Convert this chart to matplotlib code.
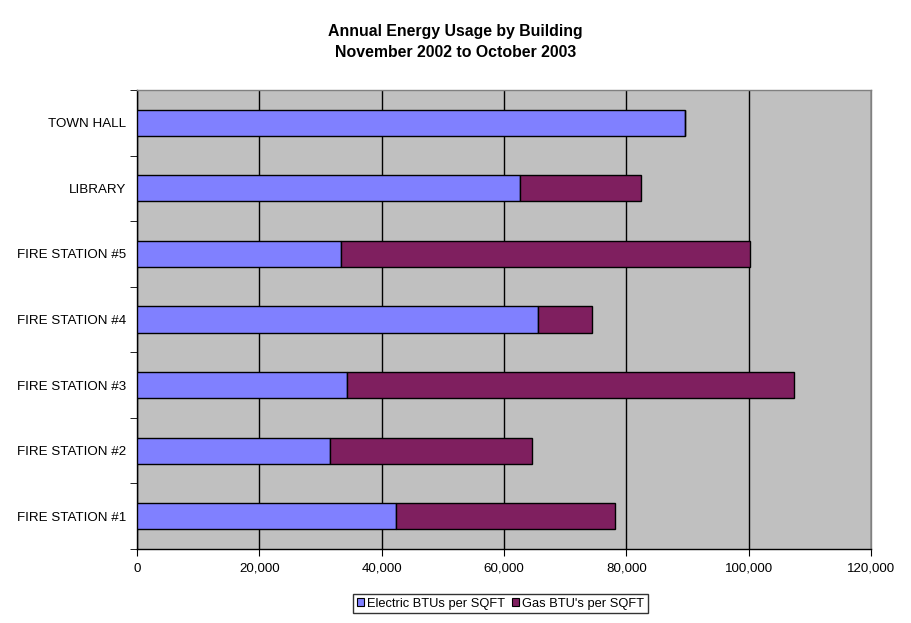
import matplotlib
matplotlib.use("Agg")
import matplotlib.pyplot as plt
from matplotlib.ticker import FuncFormatter, FixedLocator
from matplotlib.patches import Patch

buildings = ["FIRE STATION #1", "FIRE STATION #2", "FIRE STATION #3", "FIRE STATION #4",
             "FIRE STATION #5", "LIBRARY", "TOWN HALL"]
electric = [42400, 31600, 34400, 65600, 33400, 62600, 89550]
gas = [35800, 32900, 73000, 8800, 66800, 19800, 0]
x_ticks = [0, 20000, 40000, 60000, 80000, 100000, 120000]

plt.rcParams['font.family'] = ['Liberation Sans', 'DejaVu Sans']

fig = plt.figure(figsize=(9.11, 6.23), dpi=100)
W, H = 911, 623
ax = fig.add_axes([137 / W, (H - 549) / H, (871 - 137) / W, (549 - 90) / H])
ax.set_facecolor('#C0C0C0')

ypos = list(range(len(buildings)))
ax.barh(ypos, electric, height=0.4, color='#8080FF', edgecolor='black', linewidth=1.0,
        label='Electric BTUs per SQFT', zorder=3)
ax.barh(ypos, gas, left=electric, height=0.4, color='#7F1F5F', edgecolor='black', linewidth=1.0,
        label="Gas BTU's per SQFT", zorder=3)

ax.set_xlim(0, 120000)
ax.set_ylim(-0.5, len(buildings) - 0.5)
ax.set_xticks(x_ticks)
ax.xaxis.set_major_formatter(FuncFormatter(lambda v, p: f"{int(v):,}"))
ax.grid(axis='x', color='black', linewidth=1.0, zorder=1)

ax.set_yticks(ypos)
ax.set_yticklabels(buildings)
ax.yaxis.set_minor_locator(FixedLocator([i - 0.5 for i in range(len(buildings) + 1)]))
ax.tick_params(axis='y', which='major', length=0, pad=8, labelsize=9.6)
ax.tick_params(axis='y', which='minor', length=5, direction='out', color='black')
ax.tick_params(axis='x', which='major', length=5, direction='out', labelsize=9.6, pad=5)

for s in ['left', 'bottom']:
    ax.spines[s].set_color('black')
    ax.spines[s].set_linewidth(1.0)
for s in ['top', 'right']:
    ax.spines[s].set_color('#808080')
    ax.spines[s].set_linewidth(1.0)

fig.text(455.5 / W, 1 - 31.5 / H, "Annual Energy Usage by Building", ha='center', va='center',
         fontsize=11.4, fontweight='bold')
fig.text(455.5 / W, 1 - 52.5 / H, "November 2002 to October 2003", ha='center', va='center',
         fontsize=11.4, fontweight='bold')

handles = [Patch(facecolor='#8080FF', edgecolor='black', linewidth=0.8, label='Electric BTUs per SQFT'),
           Patch(facecolor='#7F1F5F', edgecolor='black', linewidth=0.8, label="Gas BTU's per SQFT")]
leg = fig.legend(handles=handles, loc='center', bbox_to_anchor=(500.5 / W, 1 - 603.5 / H), ncol=2,
                 frameon=True, fancybox=False, edgecolor='black', fontsize=9.3,
                 handlelength=0.55, handleheight=0.55, handletextpad=0.2, columnspacing=0.55,
                 borderpad=0.3, borderaxespad=0)
leg.get_frame().set_linewidth(1.0)

fig.savefig("out.png", dpi=100)
